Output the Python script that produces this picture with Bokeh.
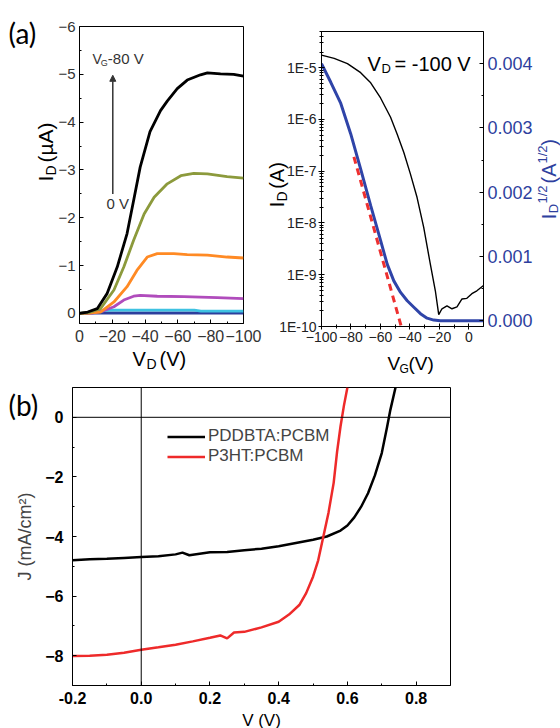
from bokeh.plotting import figure
from bokeh.models import (Range1d, LinearScale, LinearAxis, FixedTicker, CustomJSTickFormatter,
                          NumeralTickFormatter, Label, Arrow, NormalHead, Span, Legend, LegendItem)
from bokeh.layouts import column, row
from bokeh.embed import file_html
from bokeh.resources import INLINE

FONT = "Liberation Sans"

# ---------------- (a) left: output curves, V_D (V) vs I_D (uA) ----------------
vd_k = [0, -5, -10.8, -16.9, -23, -29, -33, -37, -43, -49.4, -53.5, -59.6, -65.7, -73.8, -78, -86, -94, -100]
id_k = [0, -0.03, -0.1, -0.42, -0.97, -1.67, -2.36, -3.06, -3.8, -4.24, -4.44, -4.7, -4.88, -4.99, -5.03, -5.01, -5.0, -4.96]
vd_o = [0, -6, -12.8, -21, -27, -33, -39.4, -45.5, -53.5, -61.8, -69.7, -78, -90, -100]
id_o = [0, -0.02, -0.1, -0.49, -0.97, -1.53, -2.08, -2.43, -2.71, -2.88, -2.93, -2.92, -2.86, -2.83]
vd_r = [0, -7, -12.8, -21, -29, -35, -41.3, -47.4, -57.5, -65.7, -78, -90, -100]
id_r = [0, -0.01, -0.03, -0.24, -0.56, -0.9, -1.18, -1.25, -1.25, -1.23, -1.22, -1.18, -1.16]
vd_p = [0, -8, -14, -21, -27, -33, -37, -47.4, -63.6, -84, -100]
id_p = [0, -0.01, -0.05, -0.14, -0.28, -0.36, -0.38, -0.36, -0.35, -0.33, -0.31]
vd_c = [0, -5, -10, -20, -50, -70, -74, -100]
id_c = [0, -0.02, -0.05, -0.07, -0.07, -0.07, -0.05, -0.05]
vd_b = [0, -10, -100]
id_b = [0, -0.01, -0.01]
out_colors = ["#000000", "#8c9a3c", "#ff8a24", "#b04cbc", "#3ec2e2", "#2c3e9c"]
x1_ticks = [0, -20, -40, -60, -80, -100]
x1_minor = [-10, -30, -50, -70, -90]
y1_ticks = [0, -1, -2, -3, -4, -5, -6]
y1_minor = [-0.5, -1.5, -2.5, -3.5, -4.5, -5.5]

# ---------------- (a) right: transfer curve ----------------
vg_log = [-100, -91.4, -82.4, -73.4, -66.6, -59.9, -53.1, -48.6, -44.1, -39.6, -35.1, -30.6, -26.1,
          -22.7, -20.4, -18.2, -14.8, -11.4, -8.0, -4.6, -1.3, 2.1, 5.5, 10.0]
id_log = [1.75e-5, 1.51e-5, 1.2e-5, 8.0e-6, 5.1e-6, 2.6e-6, 1.1e-6, 5.2e-7, 2.3e-7, 8.8e-8, 3.1e-8, 8.2e-9,
          1.6e-9, 4.9e-10, 1.7e-10, 2.2e-10, 2.5e-10, 2.2e-10, 2.4e-10, 3.4e-10, 3.5e-10, 4.3e-10, 4.9e-10, 6.2e-10]
vg_sq = [-100, -93.7, -86.9, -80.2, -73.4, -66.6, -59.9, -55.4, -50.9, -46.3, -41.8, -37.3, -32.8, -28.3,
         -23.8, -19.3, 10]
id_sq = [0.0040, 0.00371, 0.00338, 0.00291, 0.00236, 0.00179, 0.00125, 0.00088, 0.00062, 0.00044, 0.00031,
         0.00021, 0.00011, 0.00004, 0.00001, 0.0, 0.0]
vg_fit = [-78, -45]
sq_fit = [0.00255, -0.00016]
x2_ticks = [-100, -80, -60, -40, -20, 0]
x2_minor = [-90, -70, -50, -30, -10]
log_ticks = [1e-10, 1e-9, 1e-8, 1e-7, 1e-6, 1e-5]
log_minor = [k * t for t in log_ticks for k in range(2, 10)]
sq_ticks = [0.0, 0.001, 0.002, 0.003, 0.004]
sq_minor = [0.0005, 0.0015, 0.0025, 0.0035]

# ---------------- (b): J-V curves ----------------
v_a = [-0.2, -0.15, -0.1, -0.05, 0.0, 0.05, 0.1, 0.12, 0.14, 0.2, 0.25, 0.3, 0.35, 0.4, 0.45, 0.5, 0.54,
       0.58, 0.6, 0.62, 0.64, 0.66, 0.68, 0.70, 0.715, 0.725, 0.74]
j_a = [-4.80, -4.76, -4.75, -4.72, -4.69, -4.66, -4.60, -4.54, -4.63, -4.53, -4.52, -4.46, -4.41, -4.33,
       -4.22, -4.11, -4.0, -3.80, -3.63, -3.36, -3.0, -2.55, -1.95, -1.2, -0.35, 0.25, 1.0]
v_b = [-0.2, -0.15, -0.1, -0.05, 0.0, 0.05, 0.1, 0.15, 0.2, 0.23, 0.25, 0.27, 0.3, 0.35, 0.4, 0.43, 0.46,
       0.48, 0.5, 0.515, 0.53, 0.545, 0.56, 0.57, 0.58, 0.59, 0.60]
j_b = [-8.01, -8.0, -7.97, -7.9, -7.8, -7.72, -7.63, -7.52, -7.40, -7.32, -7.42, -7.22, -7.2, -7.05, -6.86,
       -6.62, -6.3, -5.9, -5.35, -4.8, -4.0, -3.2, -2.2, -1.15, -0.3, 0.4, 1.0]
names_b = ["PDDBTA:PCBM", "P3HT:PCBM"]
x3_ticks = [-0.2, 0.0, 0.2, 0.4, 0.6, 0.8]
x3_minor = [-0.1, 0.1, 0.3, 0.5, 0.7]
y3_ticks = [0, -2, -4, -6, -8]
y3_minor = [-1, -3, -5, -7]

BLUE = "#2e3f9e"
ROT = 1.5707963
W, H = 560, 728


def base(p):
    p.xgrid.visible = False
    p.ygrid.visible = False
    p.outline_line_color = "black"
    p.outline_line_width = 1
    p.background_fill_color = "white"
    p.border_fill_color = "white"


def style_axis(ax, size, color="#333333", bold=False, tin=4, tout=0, standoff=4):
    ax.major_label_text_font = FONT
    ax.major_label_text_font_size = size
    ax.major_label_text_color = color
    ax.major_label_text_font_style = "bold" if bold else "normal"
    ax.major_tick_in = tin
    ax.major_tick_out = tout
    ax.minor_tick_in = 2 if tin else 0
    ax.minor_tick_out = 2 if tout else 0
    ax.major_label_standoff = standoff
    ax.axis_line_color = "black"
    ax.major_tick_line_color = "black"
    ax.minor_tick_line_color = "black"


def lab(p, x, y, t, size, color="black", angle=0, align="left", units="screen", font=FONT,
        baseline="alphabetic"):
    p.add_layout(Label(x=x, y=y, x_units=units, y_units=units, text=t, text_font=font,
                       text_font_size=size, text_color=color, angle=angle, text_align=align,
                       text_baseline=baseline))


# ---------------- figure 1 ----------------
p1 = figure(width=263, height=370, min_border_left=79, min_border_right=20,
            min_border_top=26, min_border_bottom=47, x_range=Range1d(0, -100), y_range=Range1d(0.21, -6),
            output_backend="svg", toolbar_location=None)
base(p1)
for xs, ys, c in zip([vd_b, vd_c, vd_p, vd_r, vd_o, vd_k], [id_b, id_c, id_p, id_r, id_o, id_k], out_colors[::-1]):
    p1.line(xs, ys, line_color=c, line_width=2.8)
p1.xaxis.ticker = FixedTicker(ticks=x1_ticks, minor_ticks=x1_minor)
p1.yaxis.ticker = FixedTicker(ticks=y1_ticks, minor_ticks=y1_minor)
style_axis(p1.xaxis[0], "16px", standoff=6)
style_axis(p1.yaxis[0], "15px", standoff=4)
p1.add_layout(Arrow(end=NormalHead(size=6, fill_color="#333333", line_color="#333333"),
                    x_start=-20.3, y_start=-2.5, x_end=-20.3, y_end=-4.98,
                    line_color="#333333", line_width=1.5))
lab(p1, -7.9, -5.33, "V", "14px", color="#333333", units="data")
lab(p1, -13.0, -5.24, "G", "9px", color="#333333", units="data")
lab(p1, -17.3, -5.33, "-80 V", "15px", color="#333333", units="data")
lab(p1, -16.5, -2.29, "0 V", "15px", color="#333333", units="data")

# ---------------- figure 2 ----------------
p2 = figure(width=297, height=370, min_border_left=58, min_border_right=77,
            min_border_top=31, min_border_bottom=44, x_range=Range1d(-100, 10),
            y_range=Range1d(1e-10, 5e-5), y_axis_type="log",
            output_backend="svg", toolbar_location=None)
base(p2)
p2.extra_y_ranges = {"sq": Range1d(-0.00009, 0.0045)}
p2.extra_y_scales = {"sq": LinearScale()}
p2.line(vg_log, id_log, line_color="black", line_width=1.4)
p2.line(vg_sq, id_sq, line_color="#2f44a8", line_width=3, y_range_name="sq")
p2.line(vg_fit, sq_fit, line_color="#ee3030", line_width=3, line_dash="7 5", y_range_name="sq")
p2.xaxis.ticker = FixedTicker(ticks=x2_ticks, minor_ticks=x2_minor)
p2.yaxis.ticker = FixedTicker(ticks=log_ticks, minor_ticks=log_minor)
p2.yaxis.formatter = CustomJSTickFormatter(code="return '1E' + Math.round(Math.log10(tick));")
style_axis(p2.xaxis[0], "14px", color="#222222", tin=3, tout=3, standoff=2)
style_axis(p2.yaxis[0], "14px", color="#222222", tin=3, tout=3, standoff=2)
ax_r = LinearAxis(y_range_name="sq", ticker=FixedTicker(ticks=sq_ticks, minor_ticks=sq_minor),
                  formatter=NumeralTickFormatter(format="0.000"))
style_axis(ax_r, "18px", color=BLUE, tin=4, tout=0, standoff=4)
p2.add_layout(ax_r, "right")

# ---------------- figure 3 ----------------
p3 = figure(width=560, height=358, min_border_left=72, min_border_right=110,
            min_border_top=17, min_border_bottom=43, x_range=Range1d(-0.2, 0.9), y_range=Range1d(-9, 1),
            output_backend="svg", toolbar_location=None)
base(p3)
p3.add_layout(Span(location=0, dimension="width", line_color="black", line_width=1))
p3.add_layout(Span(location=0, dimension="height", line_color="black", line_width=1))
r_a = p3.line(v_a, j_a, line_color="black", line_width=2.5)
r_b = p3.line(v_b, j_b, line_color="#ee2a2a", line_width=2.5)
p3.xaxis.ticker = FixedTicker(ticks=x3_ticks, minor_ticks=x3_minor)
p3.yaxis.ticker = FixedTicker(ticks=y3_ticks, minor_ticks=y3_minor)
p3.xaxis.formatter = NumeralTickFormatter(format="0.0")
style_axis(p3.xaxis[0], "16px", color="black", bold=True, standoff=6)
style_axis(p3.yaxis[0], "16px", color="black", bold=True, standoff=9)
p3.yaxis.axis_label = "J (mA/cm²)"
p3.yaxis.axis_label_text_font = FONT
p3.yaxis.axis_label_text_font_size = "18px"
p3.yaxis.axis_label_text_font_style = "normal"
p3.yaxis.axis_label_standoff = 7
legend = Legend(items=[LegendItem(label=names_b[0], renderers=[r_a]),
                       LegendItem(label=names_b[1], renderers=[r_b])],
                location=(95, 219), glyph_width=38, glyph_height=17, label_height=17, spacing=0,
                padding=0, margin=0, label_standoff=3, border_line_color=None, background_fill_alpha=0,
                label_text_font=FONT, label_text_font_size="17px")
p3.add_layout(legend)

# ---------------- transparent text layer over the whole picture (picture px) ----------------
ov = figure(width=W, height=H, min_border=0, min_border_left=0, min_border_right=0,
            min_border_top=0, min_border_bottom=0, x_range=Range1d(0, W), y_range=Range1d(0, H),
            x_axis_location=None, y_axis_location=None, output_backend="svg", toolbar_location=None)
ov.xgrid.visible = False
ov.ygrid.visible = False
ov.outline_line_color = None
ov.background_fill_color = None
ov.border_fill_color = None


def pg(X, Y, t, size, color="black", align="left", font=FONT):
    # horizontal text, X, Y: baseline start in pixels from the top-left of the picture
    lab(ov, X, H - Y, t, size, color=color, align=align, font=font)


def pv(X, Y, t, size, color="black"):
    # vertical text reading upward, X, Y: centre of the text in picture pixels
    lab(ov, X, H - Y, t, size, color=color, angle=ROT, align="center", baseline="middle")


pg(8, 32, "(a)", "28px", font="Lato")
pv(45, 178, "I", "20px")
pv(50, 170, "D", "14px")
pv(45, 142, "(µA)", "21px")
pg(132, 358, "V", "20px")
pg(146, 363, "D", "14px")
pg(159, 358, "(V)", "20px")
pv(276, 204, "I", "20px")
pv(281, 196, "D", "14px")
pv(276, 175, "(A)", "20px")
pg(387, 363, "V", "19px")
pg(399, 368, "G", "12px")
pg(408, 363, "(V)", "19px")
pg(367, 63, "V", "20px")
pg(381, 68, "D", "13px")
pg(394, 63, "= -100 V", "20px")
pv(548, 216, "I", "20px", color=BLUE)
pv(553, 208, "D", "13px", color=BLUE)
pv(542, 194, "1/2", "13px", color=BLUE)
pv(548, 173, "(A", "20px", color=BLUE)
pv(542, 154, "1/2", "13px", color=BLUE)
pv(548, 142, ")", "20px", color=BLUE)
pg(8, 404, "(b)", "28px", font="Lato")
pg(261, 720, "V (V)", "17px", align="center")

ov_row = row(ov)
ov_row.margin = (-H, 0, 0, 0)
layout = column(row(column(p1), column(p2)), column(p3), ov_row)
open("out.html", "w").write(file_html(layout, INLINE))
